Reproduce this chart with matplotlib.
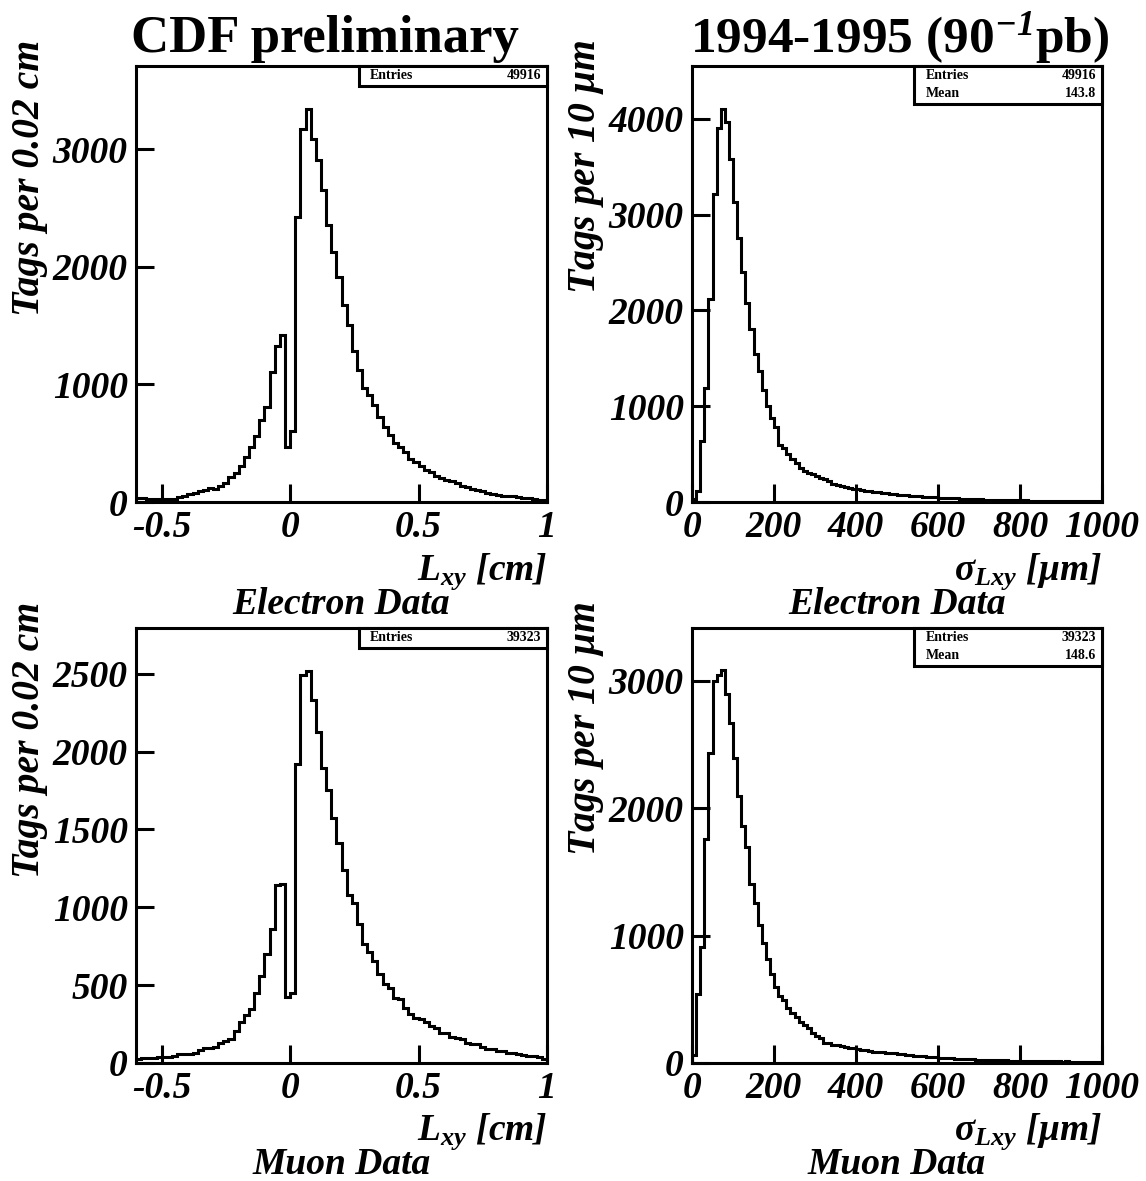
import numpy as np
import matplotlib
matplotlib.use('Agg')
import matplotlib.pyplot as plt
from matplotlib.patches import Rectangle

plt.rcParams['font.family'] = 'Liberation Serif'
plt.rcParams['font.weight'] = 'bold'
plt.rcParams['font.style'] = 'italic'
plt.rcParams['axes.unicode_minus'] = False
plt.rcParams['mathtext.fontset'] = 'custom'
plt.rcParams['mathtext.rm'] = 'Liberation Serif:bold'
plt.rcParams['mathtext.it'] = 'Liberation Serif:bold:italic'
plt.rcParams['mathtext.bf'] = 'Liberation Serif:bold'

# bin definitions
lxy_edges = np.linspace(-0.6, 1.0, 81)     # 0.02 cm bins
sig_edges = np.linspace(0, 1000, 101)      # 10 um bins

# Lxy, electron data (tags per 0.02 cm)
electron_lxy = [30, 30, 28, 27, 25, 22, 25, 28, 45, 55, 68, 80, 92, 105, 115, 110,
                135, 165, 215, 250, 310, 380, 470, 560, 700, 805, 1110, 1325, 1425, 470,
                600,
                2426, 3177, 3347, 3092, 2908, 2653, 2355, 2128, 1916, 1675, 1510, 1284,
                1122, 966, 910, 825, 725, 640, 570, 499, 470, 428, 366, 343,
                310, 270, 255, 225, 200, 190, 180, 165, 140, 130, 112, 100, 90, 80, 70,
                60, 55, 50, 47, 42, 38, 32, 26, 20, 14]

# Lxy, muon data
muon_lxy = [28, 30, 33, 35, 38, 40, 40, 45, 58, 58, 60, 62, 85, 95, 95, 100,
            130, 140, 155, 205, 265, 310, 345, 450, 560, 700, 860, 1140, 1150, 423,
            450,
            1920, 2490, 2520, 2330, 2125, 1895, 1755, 1570, 1415, 1240, 1080, 1030,
            890, 765, 715, 655, 570, 510, 480, 415, 408, 355, 312, 290,
            280, 265, 240, 225, 195, 190, 165, 160, 155, 128, 125, 120, 100, 92, 90,
            78, 75, 66, 62, 60, 52, 48, 42, 38, 28]

# sigma Lxy, electron data (tags per 10 um)
electron_sig = [30, 110, 640, 1195, 2115, 3220, 3900, 4105, 3972, 3585,
                3130, 2755, 2405, 2075, 1810, 1550, 1372, 1165, 1000, 872,
                785, 600, 565, 496, 444, 409, 357, 322, 305, 288,
                270, 253, 236, 218, 190,
                180, 170, 160, 150, 140, 132, 125, 118, 112, 105,
                100, 95, 90, 86, 80, 78, 72, 70, 65, 62,
                58, 56, 52, 50, 48, 45, 42, 40, 38, 37,
                35, 33, 31, 30, 28, 27, 26, 25, 23, 22,
                22, 20, 19, 18, 18, 17, 16, 15, 15, 14,
                13, 13, 12, 12, 11, 11, 10, 10, 9, 9,
                9, 8, 8, 8, 7]

# sigma Lxy, muon data
muon_sig = [65, 538, 910, 1760, 2430, 2993, 3040, 3082, 2895, 2665,
            2391, 2093, 1856, 1694, 1405, 1252, 1084, 940, 818, 700,
            600, 525, 495, 435, 390, 360, 325, 295, 275, 232,
            215, 200, 160, 155, 145,
            140, 135, 125, 120, 115, 110, 105, 100, 95, 90,
            85, 85, 78, 80, 75, 72, 68, 62, 65, 58,
            52, 55, 48, 45, 48, 42, 40, 38, 40, 35,
            32, 30, 32, 28, 27, 25, 26, 24, 22, 22,
            20, 21, 19, 18, 19, 17, 16, 17, 15, 14,
            15, 13, 13, 12, 12, 11, 12, 10, 10, 11,
            9, 9, 10, 8, 9]

electron_lxy_stats = [('Entries', '49916')]
electron_sig_stats = [('Entries', '49916'), ('Mean', '143.8')]
muon_lxy_stats = [('Entries', '39323')]
muon_sig_stats = [('Entries', '39323'), ('Mean', '148.6')]

lxy_ticks = [-0.5, 0, 0.5, 1]
lxy_ticklabels = ['-0.5', '0', '0.5', '1']
sig_ticks = [0, 200, 400, 600, 800, 1000]

W, H = 1146, 1181
fig = plt.figure(figsize=(W / 100, H / 100), dpi=100)


def px_axes(left, top, right, bottom):
    return fig.add_axes([left / W, 1 - bottom / H, (right - left) / W, (bottom - top) / H])


def stats_box(ax, rows):
    bw = 0.4574
    bh = 0.046 * len(rows) - 0.004 * (len(rows) - 1)
    ax.add_patch(Rectangle((1 - bw, 1 - bh), bw, bh, transform=ax.transAxes,
                           facecolor='white', edgecolor='black', lw=2.2,
                           clip_on=False, zorder=5))
    for i, (name, val) in enumerate(rows):
        y = 1 - 0.022 - i * 0.042
        ax.text(1 - bw + 0.027, y, name, transform=ax.transAxes, fontsize=10,
                style='normal', weight='bold', va='center', ha='left', zorder=6)
        ax.text(0.985, y, val, transform=ax.transAxes, fontsize=10,
                style='normal', weight='bold', va='center', ha='right', zorder=6)


def style_axes(ax):
    for s in ax.spines.values():
        s.set_linewidth(2.2)
    ax.tick_params(direction='in', length=13, width=2.2, labelsize=27, pad=6,
                   top=False, right=False)
    ax.minorticks_off()


panels = [
    (136, 66, 547, 502, lxy_edges, electron_lxy, 3710, electron_lxy_stats, 'lxy', 'Electron Data'),
    (692, 66, 1102, 502, sig_edges, electron_sig, 4552, electron_sig_stats, 'sig', 'Electron Data'),
    (136, 628, 547, 1063, lxy_edges, muon_lxy, 2793, muon_lxy_stats, 'lxy', 'Muon Data'),
    (692, 628, 1102, 1063, sig_edges, muon_sig, 3412, muon_sig_stats, 'sig', 'Muon Data'),
]

for left, top, right, bottom, edges, vals, ymax, stats, kind, caption in panels:
    ax = px_axes(left, top, right, bottom)
    ax.stairs(vals, edges, color='black', lw=2.2, baseline=0)
    ax.set_xlim(edges[0], edges[-1])
    ax.set_ylim(0, ymax)
    style_axes(ax)
    if kind == 'lxy':
        ax.set_xticks(lxy_ticks, lxy_ticklabels)
        if ymax > 3000:
            ax.set_yticks([0, 1000, 2000, 3000])
        else:
            ax.set_yticks([0, 500, 1000, 1500, 2000, 2500])
        xlab = r'$L_{xy}\ [cm]$'
        ylab = 'Tags per 0.02 cm'
    else:
        ax.set_xticks(sig_ticks)
        if ymax > 4000:
            ax.set_yticks([0, 1000, 2000, 3000, 4000])
        else:
            ax.set_yticks([0, 1000, 2000, 3000])
        xlab = r'$\mathrm{\sigma}_{Lxy}\ [\mathrm{\mu}m]$'
        ylab = r'Tags per 10 $\mathrm{\mu}$m'
    stats_box(ax, stats)
    ax.text(1.0, -0.177, xlab, transform=ax.transAxes, ha='right', va='baseline',
            fontsize=27)
    ax.text(0.5, -0.256, caption, transform=ax.transAxes, ha='center', va='baseline',
            fontsize=27)
    fig.text((left - 106) / W, 1 - (top - 26) / H, ylab, rotation=90,
             ha='center', va='top', fontsize=28.5)

fig.text(325 / W, 1 - 52 / H, 'CDF preliminary', ha='center', va='baseline',
         fontsize=38, weight='bold', style='normal')
fig.text(900 / W, 1 - 52 / H, r'1994-1995 (90$^{\mathrm{-1}}$pb)', ha='center',
         va='baseline', fontsize=37, weight='bold', style='normal')

fig.savefig('out.png', dpi=100)
